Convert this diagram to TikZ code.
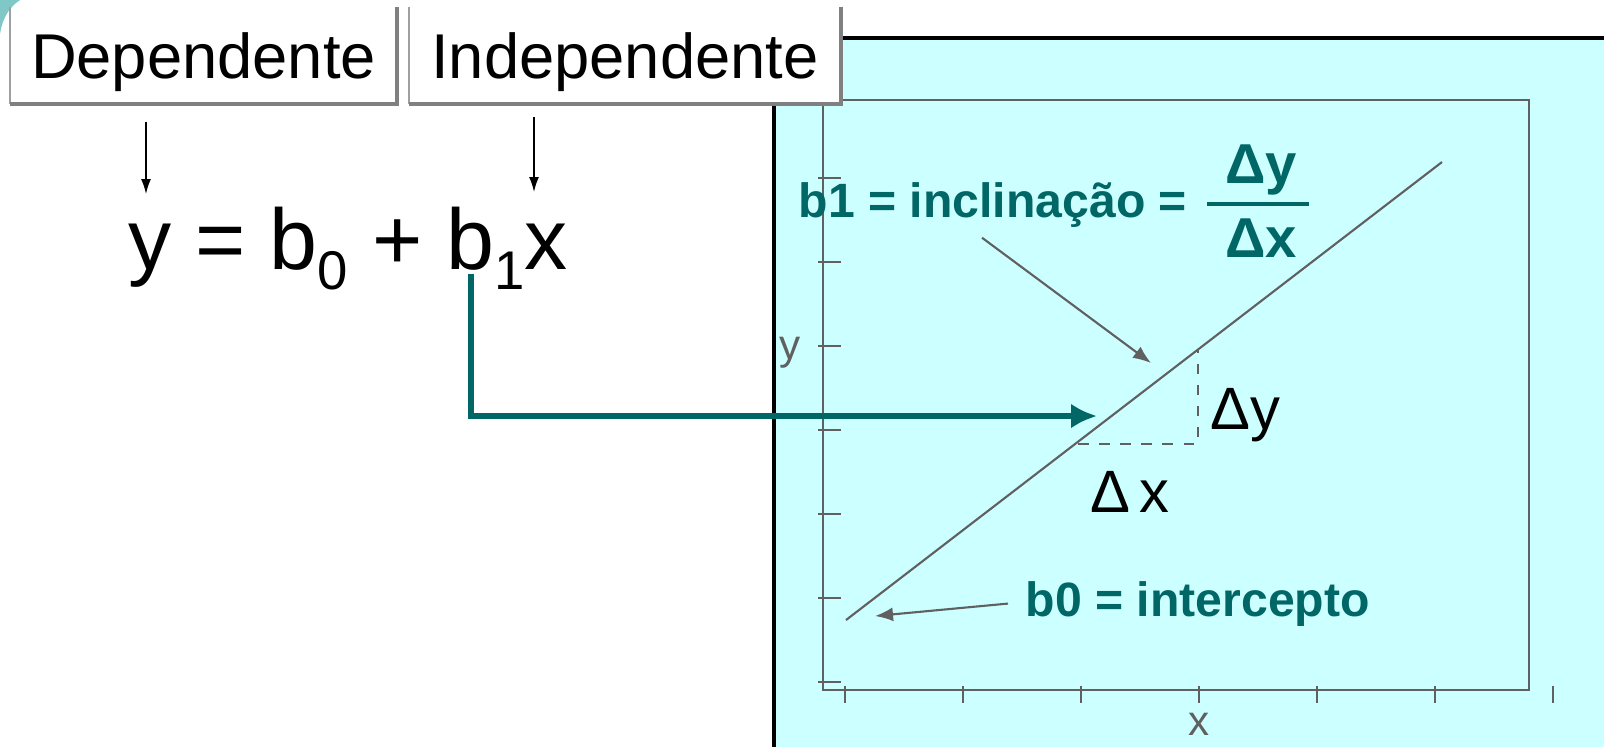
\documentclass[tikz,border=0pt]{standalone}
\usepackage{fontspec}
\setmainfont{Liberation Sans}
\usetikzlibrary{arrows.meta,calc}
\definecolor{regTeal}{HTML}{006666}
\definecolor{regCiano}{HTML}{CCFFFF}
\definecolor{regCinza}{HTML}{606060}
\definecolor{regBorda}{HTML}{A0A0A0}
\definecolor{regCanto}{HTML}{80C8C8}
\tikzset{
  caixa/.style={rectangle, fill=white, inner sep=0pt, text height=0.70cm,
    text depth=0.25cm, font=\fontsize{18}{18}\selectfont},
  rotuloTeal/.style={text=regTeal, inner sep=0pt,
    font=\bfseries\fontsize{13.7}{14}\selectfont},
  eixoTexto/.style={text=regCinza, inner sep=0pt, font=\fontsize{12}{12}\selectfont},
  deltaTexto/.style={inner sep=0pt, font=\fontsize{17}{17}\selectfont},
  flechaFina/.style={-{Latex[length=1.5mm,width=1mm]}, line width=0.45pt, black},
  flechaCinza/.style={-{Latex[length=1.8mm,width=1.4mm]}, line width=0.6pt, regCinza},
  flechaTeal/.style={-{Latex[length=2.6mm,width=2.5mm]}, line width=1.7pt, regTeal},
  eixo/.style={line width=0.75pt, regCinza},
}
\begin{document}
\begin{tikzpicture}[x=0.01cm, y=-0.01cm]
  \useasboundingbox (0,0) rectangle (1604,747);
  % painel do grafico
  \fill[regCiano] (774,38) rectangle (1604,747);
  \draw[line width=1pt] (774,747) -- (774,38) -- (1604,38);
  \fill[regCanto] (0,0) -- (20,0) .. controls (8,8) and (2,20) .. (0,34) -- cycle;

  % eixos e marcas
  \draw[eixo] (823,100) rectangle (1529,690);
  \foreach \k in {0,...,7}
    \draw[eixo] (818,94+84*\k) -- (841,94+84*\k);
  \foreach \k in {0,...,6}
    \draw[eixo] (845+118*\k,686) -- (845+118*\k,703);
  \node[eixoTexto] (yEixo) at (790,353) {y};
  \node[eixoTexto] (xEixo) at (1199,724) {x};

  % reta e triangulo
  \coordinate (r0) at (846,620);
  \coordinate (r1) at (1442,162);
  \draw[regCinza, line width=0.6pt] (r0) -- (r1);
  \coordinate (tA) at (1078,444);
  \coordinate (tB) at (1198,350);
  \draw[regCinza, dashed, line width=0.6pt] (tA) -- (tA -| tB) -- (tB);
  \node[deltaTexto] (dy) at (1245,415) {Δy};
  \node[deltaTexto] (dx) at (1130,492) {Δ\,x};

  % caixas
  \node[caixa, minimum width=3.86cm] (dep) at (203.5,55.5) {Dependente};
  \node[caixa, minimum width=4.30cm] (indep) at (625,55.5) {Independente};
  \foreach \c in {dep,indep} {
    \draw[regBorda, line width=0.5pt] (\c.north west) -- (\c.south west);
    \draw[regBorda!80!black, line width=1.1pt] (\c.south west) -- (\c.south east) -- (\c.north east);
  }

  % equacao
  \node[anchor=base west, inner sep=0pt, font=\fontsize{24.5}{24.5}\selectfont] (eq) at (128,269)
    {y = b\raisebox{-0.2cm}{\fontsize{15.5}{15.5}\selectfont 0} + b\raisebox{-0.2cm}{\fontsize{15.5}{15.5}\selectfont 1}x};
  \coordinate (yTermo) at (146,194);
  \coordinate (xTermo) at (534,192);
  \draw[flechaFina] ($(dep.south -| yTermo)+(0,18)$) -- (yTermo);
  \draw[flechaFina] ($(indep.south -| xTermo)+(0,13)$) -- (xTermo);

  % rotulos
  \node[rotuloTeal, anchor=base west] (incl) at (798,217) {b1 = inclinação =};
  \node[rotuloTeal, font=\bfseries\fontsize{16}{16}\selectfont] (fNum) at (1261,170) {Δy};
  \node[rotuloTeal, font=\bfseries\fontsize{16}{16}\selectfont] (fDen) at (1261,238) {Δx};
  \draw[regTeal, line width=1pt] (1207,204) -- (1309,204);
  \coordinate (inclFim) at (1151,363);
  \draw[flechaCinza] ($(incl.south west)+(184,10)$) -- (inclFim);
  \node[rotuloTeal, anchor=base west] (interc) at (1025,616) {b0 = intercepto};
  \coordinate (b0Fim) at (875,616);
  \draw[flechaCinza] ([xshift=-0.17cm]interc.west) -- (b0Fim);

  % ligacao b1 -> inclinacao
  \coordinate (bUm) at (471,274);
  \coordinate (alvo) at (1097,416);
  \draw[flechaTeal] (bUm) |- (alvo);
\end{tikzpicture}
\end{document}
